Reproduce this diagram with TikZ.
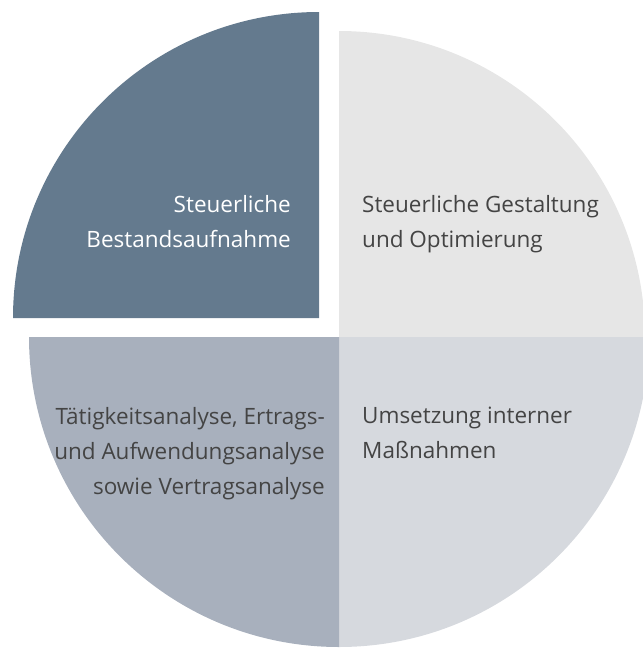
\documentclass[tikz,border=0pt]{standalone}
\usepackage{fontspec}
\setmainfont{Open Sans}
\usepackage{xcolor}
\definecolor{slate}{HTML}{647A8E}
\definecolor{fog}{HTML}{E6E6E6}
\definecolor{steel}{HTML}{A8B0BD}
\definecolor{mist}{HTML}{D6D9DE}
\definecolor{ink}{HTML}{444444}

\tikzset{
	label/.style = {inner sep = 0, font = \fontsize{22.5}{35}\selectfont, text = ink},
}

\begin{document}
\begin{tikzpicture}[x = 1pt, y = 1pt]
		\def\rtop{306};
		\def\rbot{310};

		\useasboundingbox (0,0) rectangle (643,-649);
		\clip (0,0) rectangle (643,-649);

		\coordinate (cone) at (319,-318);
		\coordinate (ctwo) at (339,-337);

		% quarters
		\fill[slate] (cone) -- ++(180:\rtop) arc[start angle = 180, end angle = 90, radius = \rtop] -- cycle;
		\fill[fog] (ctwo) -- ++(90:\rtop) arc[start angle = 90, end angle = 0, radius = \rtop] -- cycle;
		\fill[mist] (ctwo) -- ++(0:\rbot) arc[start angle = 0, end angle = -90, radius = \rbot] -- cycle;
		\fill[steel] (ctwo) -- ++(270:\rbot) arc[start angle = 270, end angle = 180, radius = \rbot] -- cycle;

		% texts
		\node[label, text = white, align = right, anchor = north east] (stock) at (291,-195) {Steuerliche\\Bestandsaufnahme};
		\node[label, align = left, anchor = north west] (design) at (362,-195) {Steuerliche Gestaltung\\und Optimierung};
		\node[label, align = right, anchor = north east] (analysis) at (325,-407) {Tätigkeitsanalyse, Ertrags-\\und Aufwendungsanalyse\\sowie Vertragsanalyse};
		\node[label, align = left, anchor = north west] (measures) at (362,-407) {Umsetzung interner\\Maßnahmen};
	\end{tikzpicture}
\end{document}
